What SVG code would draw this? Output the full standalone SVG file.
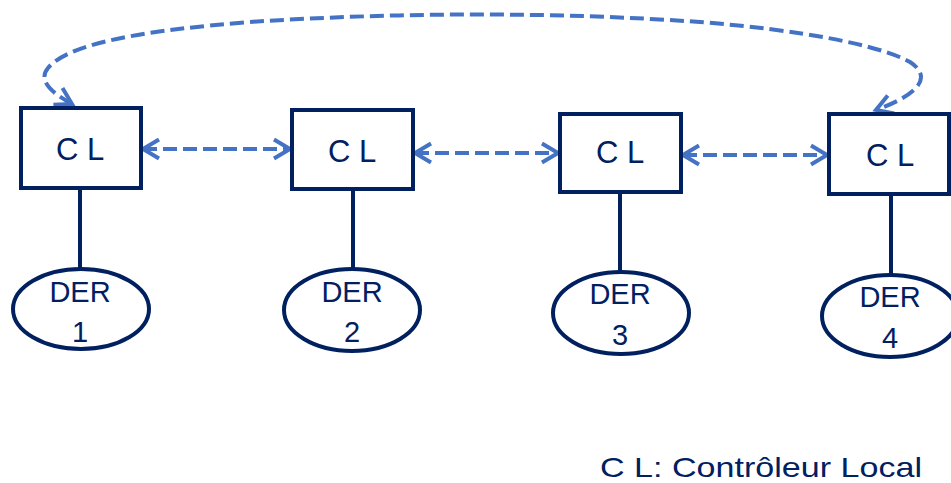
<svg xmlns="http://www.w3.org/2000/svg" width="951" height="483" viewBox="0 0 951 483">
<style>
.box{fill:#fff;stroke:#002060;stroke-width:4}
.der{fill:#fff;stroke:#002060;stroke-width:4}
.link{stroke:#002060;stroke-width:4}
.t{font-family:"Liberation Sans",Arial,sans-serif;fill:#002060;text-anchor:middle}
.cl{font-size:31px}
.dt{font-size:29px}
.dash{fill:none;stroke:#4472C4;stroke-width:4;stroke-dasharray:14 6;marker-start:url(#chev);marker-end:url(#chev)}
</style>
<defs>
<marker id="chev" markerUnits="userSpaceOnUse" markerWidth="30" markerHeight="30" viewBox="-20 -15 30 30" refX="0" refY="0" orient="auto-start-reverse" overflow="visible">
<path d="M-16,-9.5 L0,0 L-16,9.5" fill="none" stroke="#4472C4" stroke-width="4" stroke-dasharray="none"/>
</marker>
</defs>
<rect width="951" height="483" fill="#fff"/>
<g id="connectors">
<line class="link" x1="80" y1="188" x2="80" y2="268"/>
<line class="link" x1="353" y1="189" x2="353" y2="269"/>
<line class="link" x1="620" y1="192" x2="620" y2="272"/>
<line class="link" x1="891" y1="194" x2="891" y2="275"/>
<path class="dash" d="M143,149 L290,149"/>
<path class="dash" d="M415,153 L558,153"/>
<path class="dash" d="M683,155 L827,155"/>
<path class="dash" d="M72,104 C50,92 38,80 48,68 C70,42 150,30 250,22 C400,12 560,12 700,22 C800,30 880,45 910,62 C930,75 925,92 876,110"/>
</g>
<g id="cl1"><rect class="box" x="21" y="108" width="120" height="80"/><text class="t cl" x="80" y="160">C L</text></g>
<g id="cl2"><rect class="box" x="292" y="110" width="121" height="79"/><text class="t cl" x="352" y="162">C L</text></g>
<g id="cl3"><rect class="box" x="560" y="114" width="121" height="78"/><text class="t cl" x="620" y="163">C L</text></g>
<g id="cl4"><rect class="box" x="829" y="114" width="120" height="80"/><text class="t cl" x="890" y="166">C L</text></g>
<g id="der1"><ellipse class="der" cx="81" cy="309" rx="68" ry="40"/><text class="t dt" x="80" y="302">DER</text><text class="t dt" x="80" y="342">1</text></g>
<g id="der2"><ellipse class="der" cx="352" cy="310" rx="68" ry="41"/><text class="t dt" x="352" y="302">DER</text><text class="t dt" x="352" y="342">2</text></g>
<g id="der3"><ellipse class="der" cx="621" cy="313" rx="68" ry="41"/><text class="t dt" x="620" y="304">DER</text><text class="t dt" x="620" y="345">3</text></g>
<g id="der4"><ellipse class="der" cx="890" cy="316" rx="68" ry="41"/><text class="t dt" x="890" y="307">DER</text><text class="t dt" x="890" y="348">4</text></g>
<g id="legend"><text x="600" y="477" font-family="Liberation Sans, Arial, sans-serif" font-size="28" fill="#002060" textLength="322" lengthAdjust="spacingAndGlyphs">C L: Contrôleur Local</text></g>
</svg>
